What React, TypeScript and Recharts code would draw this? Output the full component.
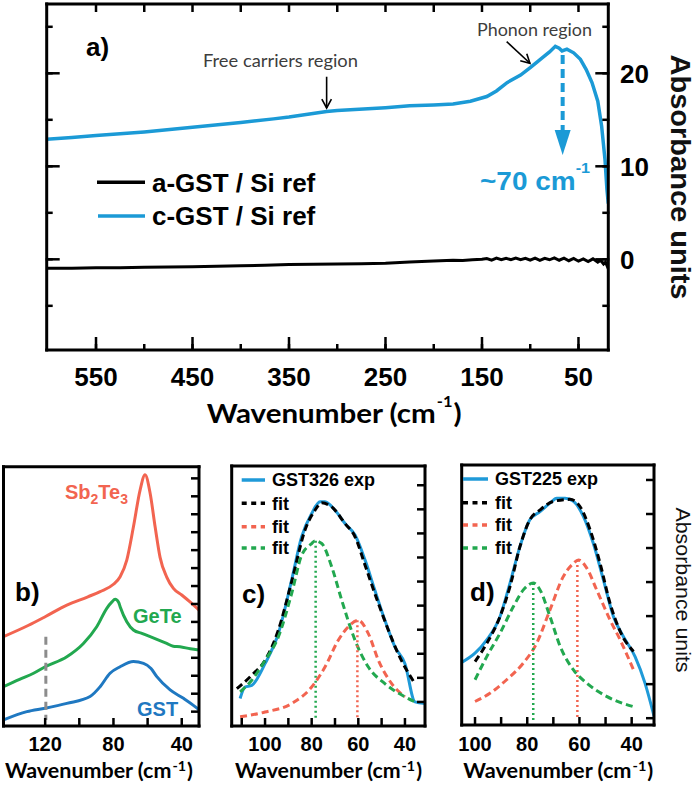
import { LineChart, Line, XAxis, YAxis, ReferenceLine } from 'recharts';

const NUMF = '"Liberation Sans", Arial, Helvetica, sans-serif';
const CALF = 'Lato, "Open Sans", sans-serif';

const BLUE_A = '#1b9ad6';
const RED = '#f26450';
const GREEN = '#22a84f';
const BLUE_B = '#1f78c1';
const BLUE_EXP = '#1f9ad8';

// ---- panel a ----
const cGstWn = [601.1, 575, 550, 500, 450, 400, 366, 350, 311, 300, 250, 225, 200, 180, 162, 145, 135, 124, 110, 100, 93, 87, 80, 74, 70, 67, 62, 55, 48, 42, 36, 30, 26, 22.5, 20.5, 19.1];
const cGstAbs = [12.9, 13.1, 13.3, 13.7, 14.2, 14.7, 15.1, 15.3, 15.9, 16.0, 16.3, 16.5, 16.6, 16.7, 17.0, 17.5, 18.1, 19.0, 19.8, 20.6, 21.2, 21.7, 22.3, 22.9, 22.7, 22.4, 22.6, 22.2, 21.5, 20.4, 19.0, 17.0, 14.3, 10.7, 7.5, 6.0];
const aGstWn = [601.1, 575, 550, 525, 500, 475, 450, 425, 400, 375, 350, 325, 300, 275, 250, 225, 200, 180, 170, 160, 150, 145, 140, 135, 130, 125, 120, 115, 110, 105, 100, 95, 90, 85, 80, 75, 70, 65, 60, 55, 50, 45, 40, 35, 30, 27, 24, 22, 19.1];
const aGstAbs = [-0.97, -0.95, -0.92, -0.9, -0.85, -0.82, -0.8, -0.75, -0.7, -0.63, -0.55, -0.52, -0.5, -0.47, -0.42, -0.3, -0.18, -0.1, -0.12, -0.05, 0.0, 0.08, -0.08, 0.12, -0.05, 0.1, -0.05, 0.12, -0.05, 0.1, -0.1, 0.12, -0.12, 0.1, -0.05, 0.15, -0.1, 0.12, -0.15, 0.1, -0.2, 0.05, -0.25, 0.05, -0.3, -0.1, -0.5, -0.3, -1.0];
const aXMajor = [550, 450, 350, 250, 150, 50];
const aXAll = [550, 500, 450, 400, 350, 300, 250, 200, 150, 100, 50];
const aYMajor = [0, 10, 20];
const aYAll = [-5, 0, 5, 10, 15, 20, 25];

// ---- panel b ----
const sbTeWn = [144.4, 130, 120, 107.3, 95, 87.8, 80, 76.1, 72.2, 68.3, 64.4, 61.5, 58.5, 55.6, 52.7, 48.8, 44.9, 40, 35, 29.9];
const sbTeAbs = [4.18, 4.8, 5.29, 5.94, 6.4, 6.69, 7.1, 7.52, 8.45, 10.3, 12.35, 13.2, 12.16, 10.3, 8.6, 7.5, 6.87, 6.5, 6.1, 5.66];
const geTeWn = [144.4, 135, 126.8, 120, 107.3, 97.6, 89.8, 83.9, 81, 79, 77, 76.1, 72.2, 68.3, 63, 58.5, 48.8, 45, 41, 35, 29.9];
const geTeAbs = [1.39, 1.8, 2.14, 2.5, 3.06, 3.8, 4.73, 5.76, 6.1, 6.26, 6.1, 5.85, 5.01, 4.55, 4.35, 4.18, 3.8, 3.65, 3.62, 3.5, 3.43];
const gstWn = [144.4, 130.7, 120, 107.3, 93.7, 87.8, 82, 76.1, 68.3, 62.4, 58, 54.6, 46.8, 39, 32.2, 29.9];
const gstAbs = [-0.46, 0.0, 0.19, 0.46, 0.84, 1.39, 2.14, 2.5, 2.79, 2.69, 2.4, 1.95, 1.21, 0.74, 0.28, 0.1];
const bXTicks = [120, 100, 80, 60, 40];
const bYTicks = [0, 1, 2, 3, 4, 5, 6, 7, 8, 9, 10, 11, 12, 13];
const bGuideWn = 119.6;

// ---- panel c ----
const cExpWn = [110.7, 108.6, 105.7, 100, 94.3, 88.6, 84.3, 80, 76.4, 74.3, 70, 65.7, 61.4, 57.1, 52.9, 48.6, 44.3, 40, 35.7, 31.4];
const cExpAbs = [0.14, 0.62, 0.69, 1.59, 2.84, 5.06, 6.86, 7.83, 8.31, 8.31, 7.96, 7.41, 6.93, 5.89, 4.64, 3.39, 2.29, 1.59, 0.0, -0.07];
const cFitWn = [112.1, 105.7, 100, 94.3, 88.6, 82.9, 78.6, 75.7, 71.4, 65.7, 61.4, 57.1, 52.9, 47.1, 42.9, 35.7];
const cFitAbs = [0.55, 1.11, 1.73, 2.98, 4.99, 7.13, 7.96, 8.27, 8.1, 7.41, 6.86, 5.68, 4.5, 2.98, 2.0, 0.76];
const cGreenWn = [110.7, 105.7, 100, 94.3, 88.6, 84.3, 80, 78.6, 75.7, 71.4, 67.1, 61.4, 55.7, 48.6, 40, 35.7];
const cGreenAbs = [0.42, 0.9, 1.73, 2.7, 4.5, 6.09, 6.58, 6.69, 6.58, 5.61, 4.22, 2.56, 1.45, 0.76, 0.21, 0.0];
const cRedWn = [110.7, 100, 88.6, 80, 74.3, 68.6, 64.3, 60, 55.7, 51.4, 45.7, 40];
const cRedAbs = [-0.62, -0.42, -0.07, 0.62, 1.45, 2.56, 3.12, 3.39, 2.84, 1.73, 0.76, 0.21];
const cPeaks = [{ wn: 78.3, top: 6.69, color: GREEN }, { wn: 60.4, top: 3.39, color: RED }];
const cdXTicks = [110, 100, 90, 80, 70, 60, 50, 40];
const cYTicks = [0, 1, 2, 3, 4, 5, 6, 7, 8, 9];

// ---- panel d ----
const dExpWn = [105.1, 100, 95.5, 90.4, 86.6, 82.8, 79.0, 75.1, 71.3, 68.7, 65.5, 62.3, 58.5, 54.7, 50.8, 47.0, 43.2, 38.7, 34.9, 31.4];
const dExpAbs = [1.64, 1.91, 2.3, 2.99, 3.97, 5.04, 5.83, 6.07, 6.32, 6.46, 6.46, 6.37, 5.93, 5.14, 4.06, 2.99, 2.4, 1.81, 1.03, 0.05];
const dFitWn = [100, 95.5, 90.4, 86.6, 82.8, 79.0, 75.1, 70, 63.6, 59.8, 55.9, 52.1, 48.3, 44.4, 39.3];
const dFitAbs = [1.66, 2.2, 2.99, 3.87, 5.04, 5.83, 6.12, 6.37, 6.43, 6.22, 5.53, 4.55, 3.38, 2.55, 1.96];
const dGreenWn = [100, 95.5, 90.4, 85.3, 81.5, 77.7, 75.1, 71.3, 67.4, 62.3, 57.2, 49.6, 39.3];
const dGreenAbs = [1.13, 1.81, 2.5, 3.28, 3.77, 3.97, 3.77, 2.99, 2.11, 1.42, 1.03, 0.64, 0.34];
const dRedWn = [100, 94.3, 87.9, 81.5, 76.4, 71.3, 66.2, 62.3, 60.4, 57.2, 53.4, 48.3, 44.4, 39.3];
const dRedAbs = [0.49, 0.73, 1.13, 1.62, 2.2, 3.18, 4.16, 4.55, 4.65, 4.41, 3.77, 2.89, 2.3, 1.42];
const dPeaks = [{ wn: 77.7, top: 3.97, color: GREEN }, { wn: 60.8, top: 4.65, color: RED }];
const dYTicks = [0, 1, 2, 3, 4, 5, 6, 7];

const pts = (xs: number[], ys: number[]) => xs.map((x, i) => ({ x, y: ys[i] }));

const frame = { stroke: '#000', strokeWidth: 3, strokeLinecap: 'square' as const };
const tickLn = { stroke: '#000', strokeWidth: 2.5 };
const blank = () => '';

function ArrowShape(props: any) {
  const { x1, y1, x2, y2, kind, color } = props;
  if (x1 == null || y2 == null) return null;
  const ang = Math.atan2(y2 - y1, x2 - x1);
  if (kind === 'filled') {
    const L = 25, W = 8;
    const bx = x2 - L * Math.cos(ang), by = y2 - L * Math.sin(ang);
    const nx = -Math.sin(ang) * W, ny = Math.cos(ang) * W;
    return (
      <g>
        <line x1={x1} y1={y1} x2={bx} y2={by} stroke={color} strokeWidth={4} strokeDasharray="9 5" />
        <polygon points={`${x2},${y2} ${bx + nx},${by + ny} ${bx - nx},${by - ny}`} fill={color} />
      </g>
    );
  }
  const L = 10, a = 0.5;
  return (
    <g stroke={color} strokeWidth={1.6} fill="none">
      <line x1={x1} y1={y1} x2={x2} y2={y2} />
      <polyline points={`${x2 - L * Math.cos(ang - a)},${y2 - L * Math.sin(ang - a)} ${x2},${y2} ${x2 - L * Math.cos(ang + a)},${y2 - L * Math.sin(ang + a)}`} />
    </g>
  );
}

function PanelA() {
  const dom: [number, number] = [19.1, 601.1];
  const ydom: [number, number] = [-9.75, 27.45];
  const big = { fill: '#000', fontSize: 26, fontWeight: 700, fontFamily: NUMF };
  return (
    <div style={{ position: 'absolute', left: 0, top: 0 }}>
      <LineChart width={697} height={440} margin={{ top: 3, right: 86.7, bottom: 88, left: 44.7 }}>
        <XAxis xAxisId="a" dataKey="x" type="number" domain={dom} reversed allowDataOverflow height={1} ticks={aXMajor} interval={0} tickSize={-13} tickMargin={30.5} axisLine={frame} tickLine={tickLn} tick={big} />
        <XAxis xAxisId="am" dataKey="x" type="number" domain={dom} reversed allowDataOverflow height={1} ticks={aXAll} interval={0} tickSize={-7} tickFormatter={blank} axisLine={false} tickLine={tickLn} />
        <XAxis xAxisId="at" orientation="top" dataKey="x" type="number" domain={dom} reversed allowDataOverflow height={1} ticks={aXAll} interval={0} tickSize={-8} tickFormatter={blank} axisLine={frame} tickLine={tickLn} />
        <YAxis yAxisId="a" orientation="right" type="number" domain={ydom} allowDataOverflow width={1} ticks={aYMajor} interval={0} tickSize={-13} tickMargin={24.7} axisLine={frame} tickLine={tickLn} tick={big} />
        <YAxis yAxisId="am" orientation="right" type="number" domain={ydom} allowDataOverflow width={1} ticks={aYAll} interval={0} tickSize={-7} tickFormatter={blank} axisLine={false} tickLine={tickLn} />
        <YAxis yAxisId="al" orientation="left" type="number" domain={ydom} allowDataOverflow width={1} ticks={aYMajor} interval={0} tickSize={-13} tickFormatter={blank} axisLine={frame} tickLine={tickLn} />
        <YAxis yAxisId="alm" orientation="left" type="number" domain={ydom} allowDataOverflow width={1} ticks={aYAll} interval={0} tickSize={-7} tickFormatter={blank} axisLine={false} tickLine={tickLn} />
        <Line xAxisId="a" yAxisId="a" data={pts(aGstWn, aGstAbs)} dataKey="y" type="linear" stroke="#000" strokeWidth={3} dot={false} isAnimationActive={false} />
        <Line xAxisId="a" yAxisId="a" data={pts(cGstWn, cGstAbs)} dataKey="y" type="linear" stroke={BLUE_A} strokeWidth={3.5} dot={false} isAnimationActive={false} />
        <ReferenceLine xAxisId="a" yAxisId="a" segment={[{ x: 311, y: 19.63 }, { x: 311, y: 16.27 }]} shape={(p: any) => <ArrowShape {...p} kind="open" color="#000" />} />
        <ReferenceLine xAxisId="a" yAxisId="a" segment={[{ x: 124.4, y: 23.4 }, { x: 100.3, y: 21.08 }]} shape={(p: any) => <ArrowShape {...p} kind="open" color="#000" />} />
        <ReferenceLine xAxisId="a" yAxisId="a" segment={[{ x: 66.4, y: 21.97 }, { x: 66.4, y: 11.22 }]} shape={(p: any) => <ArrowShape {...p} kind="filled" color={BLUE_A} />} />
      </LineChart>
    </div>
  );
}

type SmallProps = {
  left: number; width: number; margin: any; xdom: [number, number]; ydom: [number, number];
  xticks: number[]; labelled: number[]; yticks: number[]; tm: number; children: any;
};

function SmallPanel({ left, width, margin, xdom, ydom, xticks, labelled, yticks, tm, children }: SmallProps) {
  const lab = { fill: '#000', fontSize: 20, fontWeight: 700, fontFamily: NUMF };
  return (
    <div style={{ position: 'absolute', left, top: 440 }}>
      <LineChart width={width} height={348} margin={margin}>
        <XAxis xAxisId="b" dataKey="x" type="number" domain={xdom} reversed allowDataOverflow height={1} ticks={xticks} interval={0} tickSize={-8} tickMargin={tm} axisLine={frame} tickLine={tickLn} tick={lab} tickFormatter={(v: number) => (labelled.includes(v) ? String(v) : '')} />
        <XAxis xAxisId="t" orientation="top" dataKey="x" type="number" domain={xdom} reversed allowDataOverflow height={1} ticks={[xticks[0]]} interval={0} tickFormatter={blank} axisLine={frame} tickLine={false} />
        <YAxis yAxisId="b" orientation="right" type="number" domain={ydom} allowDataOverflow width={1} ticks={yticks} interval={0} tickSize={-8} tickFormatter={blank} axisLine={frame} tickLine={tickLn} />
        <YAxis yAxisId="l" orientation="left" type="number" domain={ydom} allowDataOverflow width={1} ticks={[yticks[0]]} interval={0} tickFormatter={blank} axisLine={frame} tickLine={false} />
        {children}
      </LineChart>
    </div>
  );
}

const ln = (data: any[], color: string, dashed = false) => (
  <Line xAxisId="b" yAxisId="b" data={data} dataKey="y" type="monotone" stroke={color} strokeWidth={3} strokeDasharray={dashed ? '7 4' : undefined} dot={false} isAnimationActive={false} />
);

// axis title with a raised "-1" kept inside one text element
function XTitle({ x, y, w, size, supSize, supDy }: any) {
  return (
    <text x={x} y={y} fontFamily={CALF} fontWeight={700} fill="#000" fontSize={size} textLength={w} lengthAdjust="spacingAndGlyphs">
      Wavenumber (cm<tspan dx={1} dy={-supDy} fontSize={supSize}>-1</tspan><tspan dx={1} dy={supDy}>)</tspan>
    </text>
  );
}

function LegendRow({ x1, x2, y, color, dash, label, size }: any) {
  return (
    <g>
      <line x1={x1} y1={y} x2={x2} y2={y} stroke={color} strokeWidth={3.5} strokeDasharray={dash} />
      <text x={x2 + 7} y={y + size * 0.36} fontSize={size} fontWeight={700} fontFamily={NUMF} fill="#000">{label}</text>
    </g>
  );
}

export default function App() {
  return (
    <div style={{ position: 'absolute', left: 0, top: 0, width: 697, height: 788, background: '#fff' }}>
      <PanelA />
      <SmallPanel left={0} width={228} margin={{ top: 25.7, right: 28, bottom: 61, left: 2.5 }} xdom={[29.9, 144.4]} ydom={[-0.8, 13.65]} xticks={bXTicks} labelled={[120, 80, 40]} yticks={bYTicks} tm={18.9}>
        {ln(pts(sbTeWn, sbTeAbs), RED)}
        {ln(pts(geTeWn, geTeAbs), GREEN)}
        {ln(pts(gstWn, gstAbs), BLUE_B)}
        <ReferenceLine xAxisId="b" yAxisId="b" segment={[{ x: bGuideWn, y: 4.18 }, { x: bGuideWn, y: -0.46 }]} stroke="#8c8c8c" strokeWidth={3} strokeDasharray="8 5" />
      </SmallPanel>
      <SmallPanel left={228} width={222} margin={{ top: 25, right: 24, bottom: 61, left: 2.7 }} xdom={[31.4, 114.3]} ydom={[-1, 9.8]} xticks={cdXTicks} labelled={[100, 80, 60, 40]} yticks={cYTicks} tm={18.9}>
        {ln(pts(cExpWn, cExpAbs), BLUE_EXP)}
        {ln(pts(cFitWn, cFitAbs), '#000', true)}
        {ln(pts(cRedWn, cRedAbs), RED, true)}
        {ln(pts(cGreenWn, cGreenAbs), GREEN, true)}
        {cPeaks.map((p) => (
          <ReferenceLine key={p.wn} xAxisId="b" yAxisId="b" segment={[{ x: p.wn, y: p.top }, { x: p.wn, y: -0.7 }]} stroke={p.color} strokeWidth={2.5} strokeDasharray="2 3" />
        ))}
      </SmallPanel>
      <SmallPanel left={450} width={247} margin={{ top: 24, right: 42, bottom: 62, left: 10.7 }} xdom={[31.45, 105.1]} ydom={[-0.2, 7.44]} xticks={cdXTicks.slice(1)} labelled={[100, 80, 60, 40]} yticks={dYTicks} tm={19.9}>
        {ln(pts(dExpWn, dExpAbs), BLUE_EXP)}
        {ln(pts(dFitWn, dFitAbs), '#000', true)}
        {ln(pts(dRedWn, dRedAbs), RED, true)}
        {ln(pts(dGreenWn, dGreenAbs), GREEN, true)}
        {dPeaks.map((p) => (
          <ReferenceLine key={p.wn} xAxisId="b" yAxisId="b" segment={[{ x: p.wn, y: p.top }, { x: p.wn, y: -0.05 }]} stroke={p.color} strokeWidth={2.5} strokeDasharray="2 3" />
        ))}
      </SmallPanel>

      <svg width={697} height={788} style={{ position: 'absolute', left: 0, top: 0, pointerEvents: 'none' }}>
        {/* panel a texts */}
        <text x={86} y={56} fontSize={26} fontWeight={700} fontFamily={NUMF}>a)</text>
        <LegendRow x1={97} x2={145} y={182.3} color="#000" label="a-GST / Si ref" size={26} />
        <LegendRow x1={98} x2={145} y={216} color={BLUE_A} label="c-GST / Si ref" size={26} />
        <text x={203} y={67} fontSize={17} fontFamily={CALF} fill="#3d3d3d" textLength={155} lengthAdjust="spacingAndGlyphs">Free carriers region</text>
        <text x={477} y={35.5} fontSize={17} fontFamily={CALF} fill="#3d3d3d" textLength={115} lengthAdjust="spacingAndGlyphs">Phonon region</text>
        <text x={480} y={190} fontSize={26} fontWeight={700} fontFamily={NUMF} fill={BLUE_A} textLength={110} lengthAdjust="spacingAndGlyphs">
          ~70 cm<tspan dy={-17} fontSize={15}>-1</tspan>
        </text>
        <text x={671} y={177} transform="rotate(90 671 177)" textAnchor="middle" fontSize={27} fontWeight={700} fontFamily={NUMF} fill="#111" textLength={245} lengthAdjust="spacingAndGlyphs">Absorbance units</text>
        <XTitle x={206.7} y={422.5} w={255} size={27} supSize={15} supDy={16} />

        {/* panel b texts */}
        <text x={15} y={601} fontSize={26} fontWeight={700} fontFamily={NUMF}>b)</text>
        <text x={65} y={499} fontSize={20} fontWeight={700} fontFamily={NUMF} fill={RED}>
          Sb<tspan fontSize={14} dy={5}>2</tspan><tspan dy={-5}>Te</tspan><tspan fontSize={14} dy={5}>3</tspan>
        </text>
        <text x={133} y={623} fontSize={20} fontWeight={700} fontFamily={NUMF} fill={GREEN}>GeTe</text>
        <text x={137} y={715.5} fontSize={20} fontWeight={700} fontFamily={NUMF} fill={BLUE_B}>GST</text>
        <XTitle x={5} y={778} w={188} size={21} supSize={14} supDy={7} />

        {/* panel c texts */}
        <text x={242} y={602.6} fontSize={26} fontWeight={700} fontFamily={NUMF}>c)</text>
        <LegendRow x1={241.7} x2={265} y={480} color={BLUE_EXP} label="GST326 exp" size={18} />
        <LegendRow x1={241.7} x2={265} y={503.3} color="#000" dash="5 4.5" label="fit" size={18} />
        <LegendRow x1={241.7} x2={265} y={526.7} color={RED} dash="5 4.5" label="fit" size={18} />
        <LegendRow x1={241.7} x2={265} y={548} color={GREEN} dash="5 4.5" label="fit" size={18} />
        <XTitle x={235} y={778} w={187} size={21} supSize={14} supDy={7} />

        {/* panel d texts */}
        <text x={470} y={601} fontSize={26} fontWeight={700} fontFamily={NUMF}>d)</text>
        <LegendRow x1={463} x2={488} y={479} color={BLUE_EXP} label="GST225 exp" size={18} />
        <LegendRow x1={463} x2={488} y={502.7} color="#000" dash="5 4.5" label="fit" size={18} />
        <LegendRow x1={463} x2={488} y={525} color={RED} dash="5 4.5" label="fit" size={18} />
        <LegendRow x1={463} x2={488} y={548} color={GREEN} dash="5 4.5" label="fit" size={18} />
        <XTitle x={463.3} y={778} w={190} size={21} supSize={14} supDy={7} />
        <text x={676} y={590} transform="rotate(90 676 590)" textAnchor="middle" fontSize={20} fontFamily={NUMF} fill="#111" textLength={165} lengthAdjust="spacingAndGlyphs">Absorbance units</text>
      </svg>
    </div>
  );
}
